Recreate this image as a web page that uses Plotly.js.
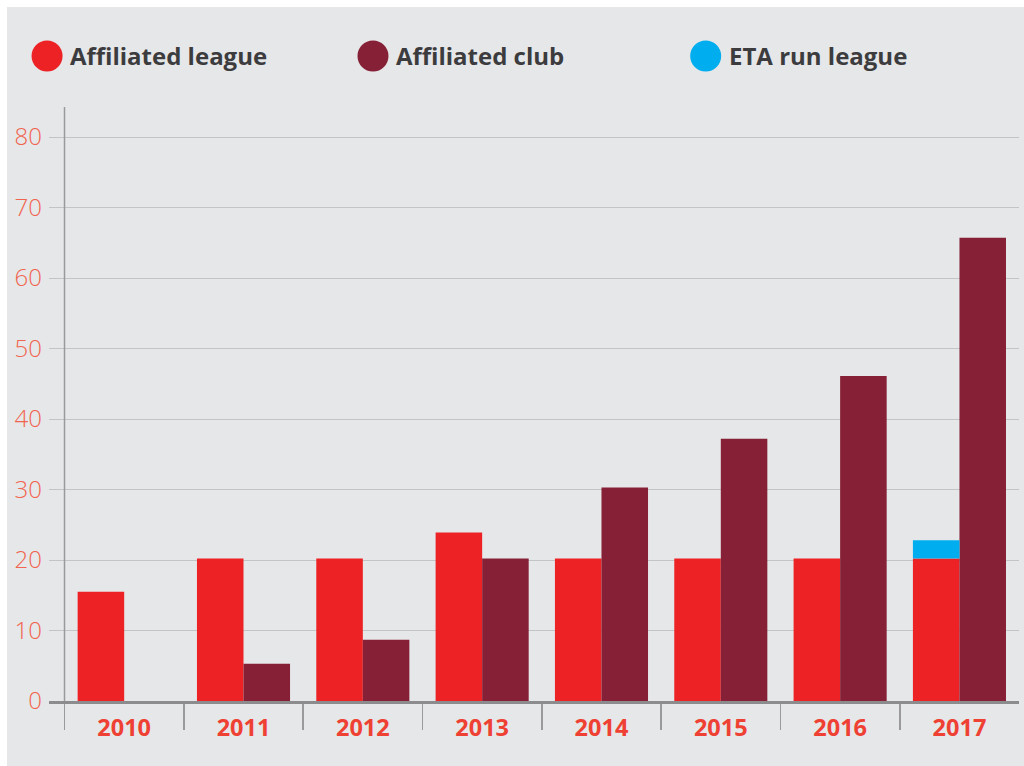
<!DOCTYPE html>
<html>
<head>
<meta charset="utf-8">
<script src="https://cdn.plot.ly/plotly-3.0.1.min.js"></script>
<style>
  html, body { margin: 0; padding: 0; background: #ffffff; width: 1024px; height: 766px; overflow: hidden; }
  #chart { position: absolute; left: 7px; top: 7px; width: 1017px; height: 759px; }
</style>
</head>
<body>
<div id="chart"></div>
<script>
// ---- data ----
const years = ["2010", "2011", "2012", "2013", "2014", "2015", "2016", "2017"];
const affiliatedLeague = [15.5, 20.2, 20.2, 23.9, 20.2, 20.2, 20.2, 20.2];
const affiliatedClub = [0, 5.3, 8.7, 20.2, 30.3, 37.2, 46.1, 65.7];
const etaRunLeague = [0, 0, 0, 0, 0, 0, 0, 2.6];
const seriesNames = ["Affiliated league", "Affiliated club", "ETA run league"];
const yTicks = [0, 10, 20, 30, 40, 50, 60, 70, 80];

// ---- styles ----
const colors = ["#ed2224", "#862036", "#00aeef"];
const bg = "#e6e7e9";

const traces = [
  {
    type: "bar", name: seriesNames[0], x: years, y: affiliatedLeague,
    offsetgroup: "league", marker: { color: colors[0], line: { width: 0 } },
    hoverinfo: "x+y+name"
  },
  {
    type: "bar", name: seriesNames[1], x: years, y: affiliatedClub,
    offsetgroup: "club", marker: { color: colors[1], line: { width: 0 } },
    hoverinfo: "x+y+name"
  },
  {
    type: "bar", name: seriesNames[2], x: years, y: etaRunLeague,
    base: affiliatedLeague, offsetgroup: "league",
    marker: { color: colors[2], line: { width: 0 } },
    hoverinfo: "x+y+name"
  }
];

// legend drawn as circles + text
const legendX = [-0.002, 0.334, 0.677];   // paper x of circle centres
const legendY = 1.086;
const shapes = [];
const annotations = [];
seriesNames.forEach((n, i) => {
  shapes.push({
    type: "circle", xref: "paper", yref: "paper",
    xsizemode: "pixel", ysizemode: "pixel",
    xanchor: legendX[i], yanchor: legendY,
    x0: -15.5, x1: 15.5, y0: -15.5, y1: 15.5,
    fillcolor: colors[i], line: { width: 0 }
  });
  annotations.push({
    xref: "paper", yref: "paper", x: legendX[i], y: legendY,
    xshift: 21, xanchor: "left", yanchor: "middle", showarrow: false,
    text: n, font: { family: "Open Sans", size: 24, color: "#3c3c3e", weight: 700 }
  });
});
// vertical y-axis line at the first category boundary
shapes.push({
  type: "line", xref: "x", yref: "paper", x0: -0.5, x1: -0.5, y0: 0, y1: 1,
  line: { color: "#9a9a9c", width: 1.5 }, layer: "above"
});

const layout = {
  width: 1017, height: 759,
  paper_bgcolor: bg, plot_bgcolor: bg,
  margin: { l: 42, r: 5, t: 100, b: 65 },
  barmode: "group", bargap: 0.22, bargroupgap: 0,
  showlegend: false,
  xaxis: {
    type: "category", range: [-0.63, 7.499],
    tickson: "boundaries", ticks: "outside", ticklen: 26, tickwidth: 1.5, tickcolor: "#9a9a9c",
    showline: true, linecolor: "#8c8c8e", linewidth: 3,
    showgrid: false, zeroline: false,
    ticklabelstandoff: 4,
    tickfont: { family: "Open Sans", size: 23.5, color: "#ef4133", weight: 700 }
  },
  yaxis: {
    range: [0, 84.26], tickvals: yTicks, ticktext: yTicks.map(String),
    showgrid: true, gridcolor: "#c3c4c6", gridwidth: 1,
    zeroline: false, showline: false, ticks: "",
    ticklabelstandoff: 6,
    tickfont: { family: "Open Sans", size: 24, color: "#f1644f", weight: 300 }
  },
  shapes: shapes,
  annotations: annotations
};

Plotly.newPlot("chart", traces, layout, { displayModeBar: false, staticPlot: true });
</script>
</body>
</html>
